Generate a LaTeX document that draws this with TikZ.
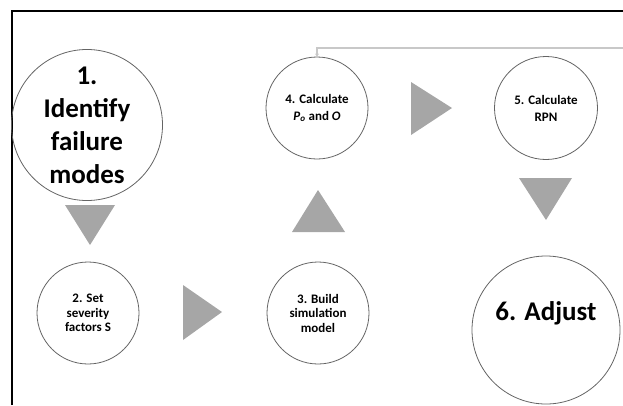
\documentclass[tikz,border=0pt]{standalone}
\usepackage{fontspec}
\setmainfont{Carlito}
\usetikzlibrary{positioning,arrows.meta}
\definecolor{stepline}{RGB}{100,100,100}
\definecolor{trigray}{RGB}{166,166,166}
\definecolor{loopgray}{RGB}{200,200,200}

\begin{document}
\begin{tikzpicture}[x=1pt,y=-1pt,
  stepnode/.style={circle,draw=stepline,line width=0.8pt,inner sep=-20pt,align=center,font=\bfseries\fontsize{13}{14.5}\selectfont},
  wide/.style={font=\bfseries\fontsize{13}{17}\selectfont},
  bigstep/.style={stepnode,font=\bfseries\fontsize{27}{33}\selectfont},
  tri/.style={fill=trigray}]
\useasboundingbox (0,0) rectangle (623,405);

% Frame
\draw[line width=1.5pt] (12,405) -- (12,11) -- (623,11);

% Steps
\node[bigstep,minimum size=151pt] (identify) at (87,125) {1.\\Identify\\failure\\modes};
\node[stepnode,minimum size=102pt] (severity) at (88,313) {2. Set\\severity\\factors S};
\node[stepnode,minimum size=102pt] (model) at (318,313) {3. Build\\simulation\\model};
\node[stepnode,wide,minimum size=102pt] (calc) at (317,108) {4. Calculate\\\textit{P}\textsubscript{\textit{o}} and \textit{O}};
\node[stepnode,wide,minimum size=103pt] (rpn) at (546,108) {5. Calculate\\RPN};
\node[bigstep,minimum size=148pt,text depth=38pt] (adjust) at (546,330) {6. Adjust};

% Flow triangles
\fill[tri] (65,205) -- (115,205) -- (90,245) -- cycle;
\fill[tri] (183,285) -- (222,312) -- (183,340) -- cycle;
\fill[tri] (292,232) -- (318,190) -- (345,232) -- cycle;
\fill[tri] (411,82) -- (452,108) -- (411,135) -- cycle;
\fill[tri] (519,178) -- (572,178) -- (546,220) -- cycle;

% Feedback loop
\coordinate (loopin) at (623,48);
\draw[loopgray,line width=1.5pt,-{Stealth[length=3pt,width=4pt]}] (loopin) -| (calc.north);
\end{tikzpicture}
\end{document}
